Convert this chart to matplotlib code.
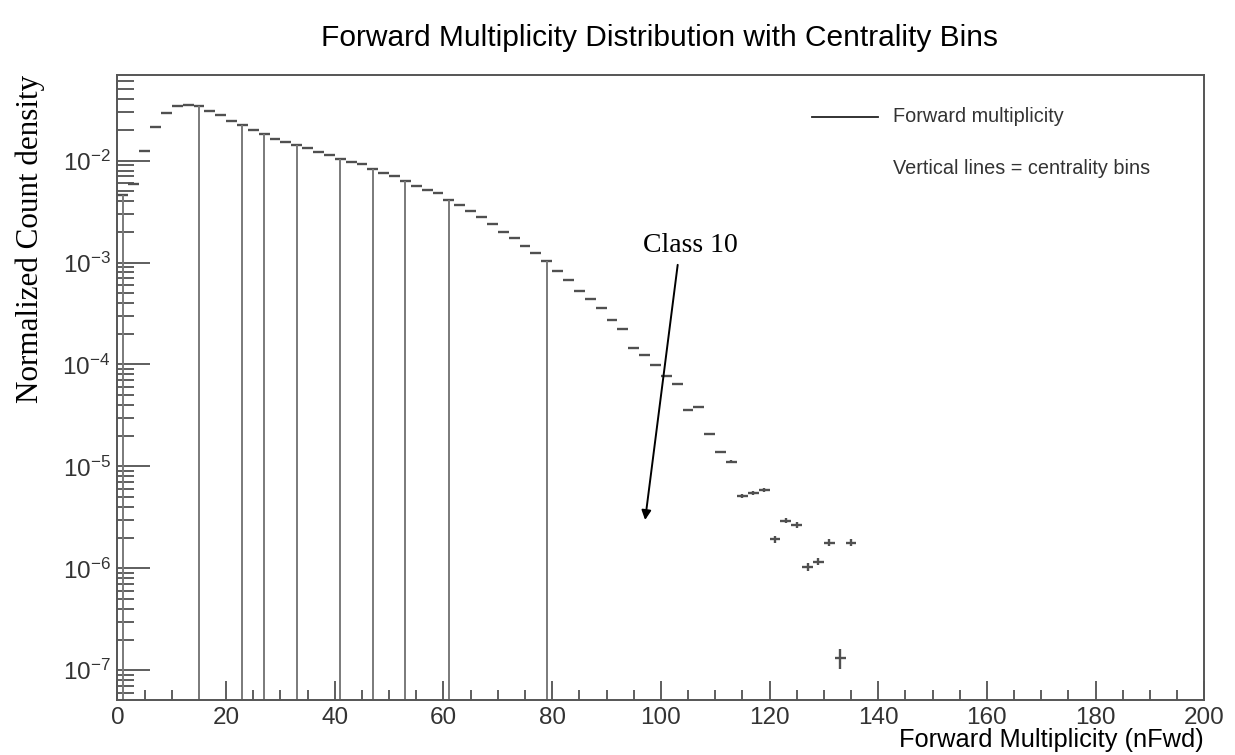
import numpy as np
import matplotlib
matplotlib.use("Agg")
import matplotlib.pyplot as plt
from matplotlib.ticker import FixedLocator, LogLocator, MultipleLocator, NullFormatter

plt.rcParams["font.family"] = "Liberation Sans"
plt.rcParams["mathtext.default"] = "regular"

# --- histogram: nFwd in 2-wide bins, normalised to unit area ---
nfwd = np.arange(1, 136, 2)          # bin centres
density = [
    4.57e-3, 5.86e-3, 1.254e-2, 2.16e-2, 2.92e-2, 3.47e-2, 3.55e-2, 3.45e-2,
    3.08e-2, 2.79e-2, 2.45e-2, 2.25e-2, 2.00e-2, 1.815e-2, 1.633e-2, 1.517e-2,
    1.416e-2, 1.324e-2, 1.209e-2, 1.129e-2, 1.04e-2, 9.64e-3, 9.2e-3, 8.3e-3,
    7.63e-3, 7.08e-3, 6.33e-3, 5.69e-3, 5.20e-3, 4.79e-3, 4.08e-3, 3.67e-3,
    3.21e-3, 2.78e-3, 2.39e-3, 2.01e-3, 1.75e-3, 1.45e-3, 1.25e-3, 1.04e-3,
    8.28e-4, 6.70e-4, 5.22e-4, 4.39e-4, 3.61e-4, 2.72e-4, 2.24e-4, 1.46e-4,
    1.23e-4, 9.93e-5, 7.64e-5, 6.42e-5, 3.59e-5, 3.82e-5, 2.10e-5, 1.40e-5,
    1.11e-5, 5.15e-6, 5.52e-6, 5.91e-6, 1.93e-6, 2.94e-6, 2.67e-6, 1.03e-6,
    1.16e-6, 1.79e-6, 1.33e-7, 1.79e-6,
]
# relative stat. errors, only visible in the low-count tail (nFwd >= 112)
tail_rel_err = [0.03, 0.045, 0.045, 0.045, 0.08, 0.06, 0.06, 0.085,
                0.08, 0.075, 0.22, 0.075]

# centrality class boundaries (bin centres)
centrality_cuts = [1, 15, 23, 27, 33, 41, 47, 53, 61, 79]

density = np.array(density)
yerr = np.zeros_like(density)
yerr[-len(tail_rel_err):] = np.array(tail_rel_err) * density[-len(tail_rel_err):]

ymin, ymax = 5.1e-8, 6.93e-2

fig = plt.figure(figsize=(12.35, 7.55), dpi=100)
ax = fig.add_axes([0.0951, 0.0728, 0.8800, 0.8279])

ax.errorbar(nfwd, density, xerr=1, yerr=yerr, fmt="none",
            ecolor="#505050", elinewidth=1.7, capsize=0)

cut_heights = [density[(c - 1) // 2] for c in centrality_cuts]
ax.vlines(centrality_cuts, ymin, cut_heights, colors="#7a7a7a", lw=1.4)

# arrow pointing at the last class
ax.annotate("", xy=(97.1, 2.98e-6), xytext=(103.1, 9.5e-4),
            arrowprops=dict(arrowstyle="-|>", color="black", lw=1.4,
                            mutation_scale=14, shrinkA=0, shrinkB=0))
ax.text(105.4, 1.46e-3, "Class 10", family="Liberation Serif", fontsize=20,
        ha="center", va="center")

# legend box (no frame)
ax.plot([0.639, 0.700], [0.933, 0.933], transform=ax.transAxes,
        color="#222222", lw=1.3)
ax.text(0.7136, 0.933, "Forward multiplicity", transform=ax.transAxes,
        fontsize=14.3, color="#333333", va="center")
ax.text(0.7136, 0.851, "Vertical lines = centrality bins", transform=ax.transAxes,
        fontsize=14.3, color="#333333", va="center")

ax.set_yscale("log")
ax.set_xlim(0, 200)
ax.set_ylim(ymin, ymax)

ax.xaxis.set_major_locator(MultipleLocator(20))
ax.xaxis.set_minor_locator(MultipleLocator(5))
ax.yaxis.set_major_locator(FixedLocator(10.0 ** np.arange(-7, -1)))
ax.yaxis.set_minor_locator(LogLocator(base=10, subs=np.arange(2, 10), numticks=20))
ax.yaxis.set_minor_formatter(NullFormatter())

ax.tick_params(axis="both", which="both", direction="in", colors="#333333",
               top=False, right=False, labelsize=17.5)
ax.tick_params(axis="x", which="major", length=14, width=1.1, pad=5)
ax.tick_params(axis="x", which="minor", length=7, width=1.1)
ax.tick_params(axis="y", which="major", length=24, width=1.1, pad=5)
ax.tick_params(axis="y", which="minor", length=12, width=1.1)
for sp in ax.spines.values():
    sp.set_color("#555555")
    sp.set_linewidth(1.4)

ax.set_xlabel("Forward Multiplicity (nFwd)", fontsize=18.3, loc="right")
ax.xaxis.set_label_coords(1.0, -0.0752)
ax.xaxis.label.set_va("baseline")
ax.set_ylabel("Normalized Count density", family="Liberation Serif",
              fontsize=22.4, loc="top")
ax.yaxis.set_label_coords(-0.067, 1.0)

fig.suptitle("Forward Multiplicity Distribution with Centrality Bins",
             x=0.534, y=0.95, fontsize=21.5, va="center")

fig.savefig("out.png", dpi=100)
